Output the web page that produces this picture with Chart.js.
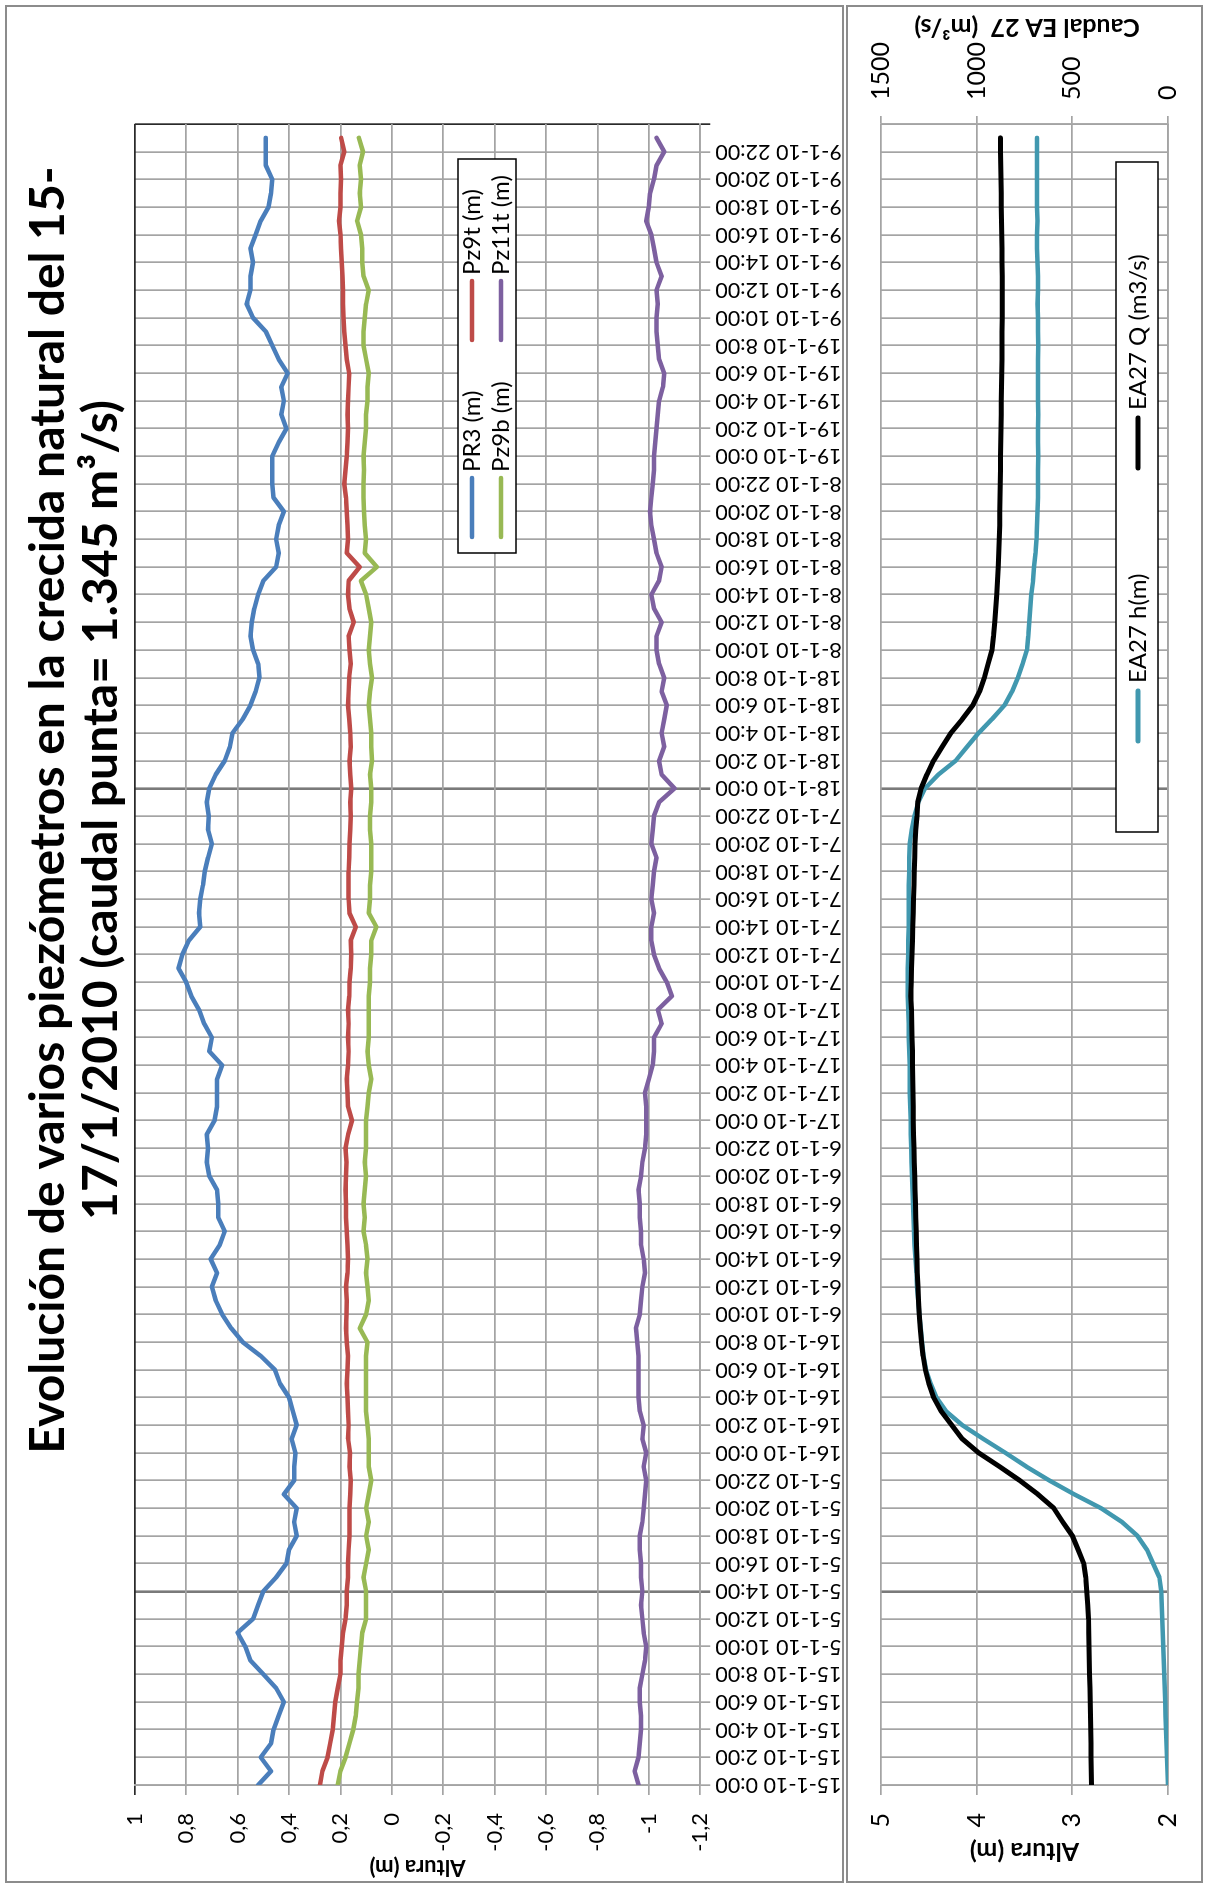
<!DOCTYPE html>
<html lang="es">

<head>
    <meta charset="UTF-8">
    <title>Evolución de varios piezómetros - crecida 15-17/1/2010</title>
    <script src="https://cdn.jsdelivr.net/npm/chart.js"></script>
    <style>
        html,
        body {
            margin: 0;
            padding: 0;
            background: #fff;
            overflow: hidden;
        }

        /* la hoja se compone apaisada y se gira para quedar vertical */
        #hoja {
            position: absolute;
            left: 0;
            top: 0;
            width: 1883px;
            height: 1206px;
            background: #fff;
            transform-origin: 0 0;
            transform: translate(0, 1883px) rotate(-90deg);
        }

        .panel {
            position: absolute;
            left: 0;
            width: 1878px;
            border: 2px solid #8c8c8c;
            box-sizing: border-box;
            background: #fff;
        }

        #panelPiezo {
            top: 5px;
            height: 839px;
        }

        #panelEA27 {
            top: 846px;
            height: 357px;
        }

        canvas {
            display: block;
        }
    </style>
</head>

<body>
    <div id="hoja">
        <div class="panel" id="panelPiezo">
            <canvas id="graficoPiezo" width="1874" height="835"></canvas>
        </div>
        <div class="panel" id="panelEA27">
            <canvas id="graficoEA27" width="1874" height="353"></canvas>
        </div>
    </div>

    <script>
        // lecturas horarias desde 15-1-10 0:00 (una fila = 12 horas)
        const pr3 = [
            0.52, 0.47, 0.51, 0.47, 0.46, 0.44, 0.42, 0.45, 0.50, 0.55, 0.57, 0.60,
            0.54, 0.52, 0.50, 0.45, 0.41, 0.40, 0.37, 0.38, 0.37, 0.42, 0.38, 0.38,
            0.375, 0.39, 0.37, 0.385, 0.40, 0.435, 0.455, 0.51, 0.58, 0.625, 0.66, 0.685,
            0.70, 0.68, 0.705, 0.67, 0.65, 0.675, 0.675, 0.68, 0.71, 0.72, 0.715, 0.72,
            0.69, 0.68, 0.68, 0.68, 0.66, 0.71, 0.70, 0.73, 0.75, 0.78, 0.80, 0.83,
            0.815, 0.79, 0.745, 0.75, 0.745, 0.735, 0.728, 0.715, 0.70, 0.715, 0.712, 0.72,
            0.71, 0.685, 0.65, 0.63, 0.62, 0.58, 0.55, 0.53, 0.515, 0.52, 0.54, 0.55,
            0.545, 0.535, 0.52, 0.50, 0.45, 0.44, 0.45, 0.44, 0.42, 0.46, 0.465, 0.465,
            0.465, 0.44, 0.41, 0.43, 0.42, 0.43, 0.405, 0.44, 0.465, 0.49, 0.54, 0.565,
            0.55, 0.55, 0.54, 0.55, 0.53, 0.51, 0.48, 0.47, 0.465, 0.49, 0.49, 0.49
        ];
        const pz9t = [
            0.28, 0.27, 0.25, 0.24, 0.23, 0.225, 0.22, 0.21, 0.20, 0.20, 0.195, 0.19,
            0.18, 0.175, 0.175, 0.17, 0.17, 0.168, 0.165, 0.165, 0.165, 0.162, 0.16, 0.165,
            0.163, 0.17, 0.168, 0.17, 0.172, 0.175, 0.172, 0.17, 0.175, 0.178, 0.176, 0.175,
            0.178, 0.172, 0.17, 0.172, 0.175, 0.178, 0.178, 0.18, 0.178, 0.176, 0.18, 0.17,
            0.155, 0.17, 0.172, 0.175, 0.17, 0.168, 0.17, 0.168, 0.17, 0.166, 0.165, 0.16,
            0.158, 0.16, 0.14, 0.165, 0.168, 0.168, 0.168, 0.166, 0.165, 0.162, 0.16, 0.162,
            0.158, 0.162, 0.165, 0.16, 0.162, 0.166, 0.17, 0.168, 0.166, 0.16, 0.165, 0.168,
            0.148, 0.165, 0.17, 0.168, 0.125, 0.175, 0.17, 0.172, 0.175, 0.178, 0.185, 0.18,
            0.175, 0.172, 0.17, 0.172, 0.17, 0.168, 0.166, 0.175, 0.18, 0.185, 0.188, 0.19,
            0.19, 0.192, 0.195, 0.198, 0.20, 0.205, 0.20, 0.20, 0.198, 0.20, 0.185, 0.197
        ];
        const pz9b = [
            0.21, 0.20, 0.18, 0.165, 0.15, 0.14, 0.135, 0.13, 0.13, 0.125, 0.12, 0.115,
            0.10, 0.10, 0.10, 0.11, 0.10, 0.09, 0.10, 0.09, 0.10, 0.09, 0.08, 0.09,
            0.09, 0.09, 0.095, 0.10, 0.10, 0.10, 0.10, 0.10, 0.095, 0.125, 0.10, 0.09,
            0.095, 0.10, 0.095, 0.10, 0.11, 0.105, 0.11, 0.105, 0.10, 0.105, 0.10, 0.10,
            0.10, 0.095, 0.09, 0.08, 0.09, 0.095, 0.09, 0.09, 0.09, 0.09, 0.085, 0.085,
            0.08, 0.08, 0.06, 0.09, 0.085, 0.085, 0.08, 0.08, 0.08, 0.085, 0.085, 0.08,
            0.08, 0.085, 0.077, 0.08, 0.08, 0.085, 0.09, 0.085, 0.077, 0.085, 0.09, 0.085,
            0.08, 0.09, 0.10, 0.12, 0.058, 0.105, 0.10, 0.105, 0.108, 0.11, 0.11, 0.108,
            0.11, 0.105, 0.10, 0.10, 0.095, 0.095, 0.09, 0.10, 0.11, 0.11, 0.105, 0.10,
            0.09, 0.11, 0.115, 0.115, 0.12, 0.135, 0.12, 0.125, 0.12, 0.125, 0.112, 0.128
        ];
        const pz11t = [
            -0.96, -0.945, -0.96, -0.965, -0.97, -0.97, -0.965, -0.965, -0.975, -0.985, -0.99, -0.98,
            -0.975, -0.97, -0.975, -0.97, -0.97, -0.965, -0.965, -0.975, -0.98, -0.985, -0.99, -0.98,
            -0.99, -0.975, -0.98, -0.965, -0.96, -0.96, -0.96, -0.96, -0.955, -0.95, -0.965, -0.97,
            -0.975, -0.985, -0.98, -0.97, -0.97, -0.965, -0.965, -0.96, -0.97, -0.975, -0.985, -0.99,
            -0.99, -0.99, -0.985, -1.0, -1.015, -1.02, -1.02, -1.05, -1.035, -1.09, -1.07, -1.04,
            -1.02, -1.01, -1.01, -1.02, -1.01, -1.015, -1.02, -1.03, -1.01, -1.015, -1.02, -1.04,
            -1.10, -1.05, -1.04, -1.06, -1.05, -1.06, -1.07, -1.05, -1.06, -1.04, -1.03, -1.03,
            -1.05, -1.02, -1.01, -1.04, -1.05, -1.03, -1.02, -1.01, -1.005, -1.01, -1.015, -1.02,
            -1.02, -1.025, -1.03, -1.035, -1.04, -1.055, -1.06, -1.04, -1.035, -1.03, -1.03, -1.035,
            -1.03, -1.05, -1.03, -1.02, -1.01, -0.99, -1.0, -1.005, -1.02, -1.03, -1.06, -1.03
        ];
        // estación de aforo EA27: nivel (m) y caudal (m3/s)
        const ea27h = [
            2.00, 2.005, 2.01, 2.015, 2.02, 2.025, 2.03, 2.035, 2.04, 2.045, 2.05, 2.055,
            2.06, 2.065, 2.07, 2.09, 2.155, 2.22, 2.32, 2.48, 2.70, 2.98, 3.24, 3.48,
            3.70, 3.93, 4.15, 4.32, 4.42, 4.48, 4.53, 4.555, 4.57, 4.585, 4.60, 4.61,
            4.625, 4.63, 4.64, 4.65, 4.655, 4.66, 4.665, 4.67, 4.675, 4.68, 4.685, 4.69,
            4.69, 4.695, 4.70, 4.70, 4.70, 4.705, 4.71, 4.71, 4.715, 4.72, 4.72, 4.72,
            4.715, 4.715, 4.71, 4.71, 4.71, 4.71, 4.705, 4.705, 4.70, 4.68, 4.65, 4.61,
            4.54, 4.40, 4.22, 4.10, 3.98, 3.84, 3.71, 3.63, 3.57, 3.52, 3.475, 3.46,
            3.45, 3.44, 3.43, 3.41, 3.40, 3.385, 3.375, 3.37, 3.365, 3.36, 3.36, 3.36,
            3.355, 3.36, 3.36, 3.355, 3.36, 3.36, 3.36, 3.36, 3.355, 3.36, 3.36, 3.365,
            3.36, 3.36, 3.365, 3.37, 3.37, 3.365, 3.37, 3.37, 3.37, 3.37, 3.37, 3.37
        ];
        const ea27q = [
            400, 401, 402, 403, 404, 405, 406, 408, 410, 411, 413, 414,
            416, 420, 425, 430, 440, 470, 500, 550, 597, 680, 775, 880,
            990, 1075, 1130, 1185, 1225, 1250, 1268, 1280, 1288, 1295, 1300, 1304,
            1307, 1310, 1312, 1314, 1316, 1318, 1320, 1322, 1324, 1326, 1328, 1330,
            1331, 1332, 1333, 1334, 1335, 1336, 1338, 1339, 1340, 1345, 1342, 1340,
            1338, 1336, 1334, 1332, 1330, 1328, 1326, 1324, 1322, 1318, 1312, 1308,
            1290, 1260, 1225, 1180, 1135, 1075, 1020, 985, 960, 940, 920, 912,
            906, 900, 895, 891, 887, 884, 882, 880, 879, 878, 877, 876,
            875, 874, 873, 872, 871, 870, 869, 868, 867, 867, 866, 866,
            866, 866, 867, 868, 869, 870, 871, 872, 873, 874, 875, 876
        ];

        // horas transcurridas desde el inicio, posición de cada lectura en el eje
        const horas = pr3.map((v, i) => i);

        // rótulos del eje de tiempo, cada 2 horas
        const dias = ['15-1-10', '16-1-10', '17-1-10', '18-1-10', '19-1-10'];
        const horasRotulo = [0, 2, 4, 6, 8, 10, 12, 14, 16, 18, 20, 22];
        const etiquetas = [];
        dias.forEach(d => horasRotulo.forEach(h => etiquetas.push(d + ' ' + h + ':00')));

        // horas en que se marca una línea más oscura (inicio de subida y punta)
        const marcas = [14, 72];

        Chart.defaults.font.family = 'Lato, "Open Sans", sans-serif';
        Chart.defaults.color = '#000';
        Chart.defaults.animation = false;
        Chart.defaults.elements.point.radius = 0;
        Chart.defaults.elements.line.tension = 0;
        Chart.defaults.elements.line.borderCapStyle = 'round';
        Chart.defaults.elements.line.borderJoinStyle = 'round';

        const gris = '#a4a4a4';

        function colorRejilla(borde) {
            return (c) => {
                if (c.tick && marcas.includes(c.tick.value)) return '#7a7a7a';
                if (borde !== undefined && c.tick && c.tick.value === borde) return '#2a2a2a';
                return gris;
            };
        }

        function grosorRejilla(c) {
            return (c.tick && marcas.includes(c.tick.value)) ? 2.6 : 1.7;
        }

        function coma(v) {
            return String(Math.round(v * 10) / 10).replace('.', ',');
        }

        // caja de leyenda fija dentro del área de trazado
        function leyendaCaja(caja) {
            return {
                id: 'leyendaCaja',
                afterDatasetsDraw(chart) {
                    const ctx = chart.ctx;
                    ctx.save();
                    ctx.fillStyle = '#fff';
                    ctx.fillRect(caja.x, caja.y, caja.ancho, caja.alto);
                    ctx.lineWidth = 1.5;
                    ctx.strokeStyle = '#000';
                    ctx.strokeRect(caja.x, caja.y, caja.ancho, caja.alto);
                    ctx.font = caja.fuente;
                    ctx.textBaseline = 'middle';
                    chart.data.datasets.forEach((ds, i) => {
                        const px = caja.columnas[i % caja.columnas.length];
                        const py = caja.filas[Math.floor(i / caja.columnas.length)];
                        ctx.strokeStyle = ds.borderColor;
                        ctx.lineWidth = caja.grosor;
                        ctx.lineCap = 'round';
                        ctx.beginPath();
                        ctx.moveTo(px, py);
                        ctx.lineTo(px + caja.largo, py);
                        ctx.stroke();
                        ctx.fillStyle = '#000';
                        ctx.fillText(ds.label, px + caja.largo + caja.hueco, py);
                    });
                    ctx.restore();
                }
            };
        }

        // textos sueltos: título general y título del eje secundario
        function rotulos(lista) {
            return {
                id: 'rotulos',
                afterDraw(chart) {
                    const ctx = chart.ctx;
                    lista.forEach(t => {
                        ctx.save();
                        ctx.translate(t.x, t.y);
                        if (t.giro) ctx.rotate(t.giro);
                        ctx.font = t.fuente;
                        ctx.fillStyle = '#000';
                        ctx.textAlign = 'center';
                        ctx.textBaseline = t.base || 'alphabetic';
                        ctx.fillText(t.texto, 0, 0);
                        ctx.restore();
                    });
                }
            };
        }

        new Chart(document.getElementById('graficoPiezo'), {
            type: 'line',
            data: {
                labels: horas,
                datasets: [
                    { label: 'PR3 (m)', data: pr3, borderColor: '#4a7ebb', borderWidth: 4.5 },
                    { label: 'Pz9t (m)', data: pz9t, borderColor: '#be4b48', borderWidth: 4.5 },
                    { label: 'Pz9b (m)', data: pz9b, borderColor: '#98b954', borderWidth: 4.5 },
                    { label: 'Pz11t (m)', data: pz11t, borderColor: '#7d60a0', borderWidth: 4.5 }
                ]
            },
            options: {
                responsive: false,
                devicePixelRatio: 1,
                layout: { padding: { top: 127.8, right: 117, bottom: 0, left: 0 } },
                plugins: { legend: { display: false }, tooltip: { enabled: false } },
                scales: {
                    x: {
                        type: 'linear',
                        min: 0,
                        max: 120,
                        afterFit: (s) => { s.height = 141.8; },
                        ticks: {
                            stepSize: 2,
                            maxTicksLimit: 100,
                            autoSkip: false,
                            minRotation: 90,
                            maxRotation: 90,
                            padding: 5,
                            font: { size: 21.5 },
                            callback: (v) => etiquetas[v / 2] || ''
                        },
                        grid: { color: colorRejilla(120), lineWidth: grosorRejilla, tickLength: 10 },
                        border: { color: gris, width: 1.7 }
                    },
                    y: {
                        min: -1.2,
                        max: 1,
                        afterFit: (s) => { s.width = 96; },
                        ticks: { stepSize: 0.2, padding: 18, font: { size: 22 }, callback: coma },
                        grid: { color: colorRejilla(1), lineWidth: 1.7, tickLength: 10 },
                        border: { color: gris, width: 1.7 },
                        title: {
                            display: true,
                            text: 'Altura (m)',
                            font: { size: 22, weight: 'bold' },
                            padding: { top: 1, bottom: 0 }
                        }
                    }
                }
            },
            plugins: [
                leyendaCaja({
                    x: 1328, y: 451, ancho: 394, alto: 58,
                    columnas: [1344, 1541], filas: [465, 494],
                    largo: 59, hueco: 6, grosor: 4.5, fuente: '24px Lato'
                }),
                rotulos([
                    { texto: 'Evolución de varios piezómetros en la crecida natural del 15-', x: 1071, y: 57, fuente: 'bold 48px Lato' },
                    { texto: '17/1/2010 (caudal punta= 1.345 m³/s)', x: 1071, y: 110, fuente: 'bold 48px Lato' }
                ])
            ]
        });

        new Chart(document.getElementById('graficoEA27'), {
            type: 'line',
            data: {
                labels: horas,
                datasets: [
                    { label: 'EA27 h(m)', data: ea27h, borderColor: '#4198af', borderWidth: 4.5, yAxisID: 'yH', order: 1 },
                    { label: 'EA27 Q (m3/s)', data: ea27q, borderColor: '#000000', borderWidth: 5, yAxisID: 'yQ', order: 0 }
                ]
            },
            options: {
                responsive: false,
                devicePixelRatio: 1,
                layout: { padding: { top: 26, right: 0, bottom: 0, left: 0 } },
                plugins: { legend: { display: false }, tooltip: { enabled: false } },
                scales: {
                    x: {
                        type: 'linear',
                        min: 0,
                        max: 120,
                        afterFit: (s) => { s.height = 23.5; },
                        ticks: { display: false, stepSize: 2, maxTicksLimit: 100, autoSkip: false },
                        grid: { color: colorRejilla(), lineWidth: grosorRejilla, drawTicks: false },
                        border: { color: gris, width: 1.7 }
                    },
                    yH: {
                        position: 'left',
                        min: 2,
                        max: 5,
                        afterFit: (s) => { s.width = 96; },
                        ticks: { stepSize: 1, padding: 18, font: { size: 25 } },
                        grid: { color: gris, lineWidth: 1.7, tickLength: 10 },
                        border: { color: gris, width: 1.7 },
                        title: {
                            display: true,
                            text: 'Altura (m)',
                            font: { size: 25, weight: 'bold' },
                            padding: { top: 15, bottom: 0 }
                        }
                    },
                    yQ: {
                        position: 'right',
                        min: 0,
                        max: 1500,
                        afterFit: (s) => { s.width = 117; },
                        ticks: { stepSize: 500, padding: 16, font: { size: 25 }, callback: (v) => String(v) },
                        grid: { drawOnChartArea: false, color: gris, lineWidth: 1.7, tickLength: 8 },
                        border: { color: gris, width: 1.7 }
                    }
                }
            },
            plugins: [
                leyendaCaja({
                    x: 1049, y: 268, ancho: 670, alto: 42,
                    columnas: [1140, 1413], filas: [290],
                    largo: 50, hueco: 8, grosor: 5, fuente: '24px Lato'
                }),
                rotulos([
                    { texto: 'Caudal EA 27  (m³/s)', x: 1854, y: 179, giro: -Math.PI / 2, base: 'middle', fuente: 'bold 25px Lato' }
                ])
            ]
        });
    </script>
</body>

</html>
